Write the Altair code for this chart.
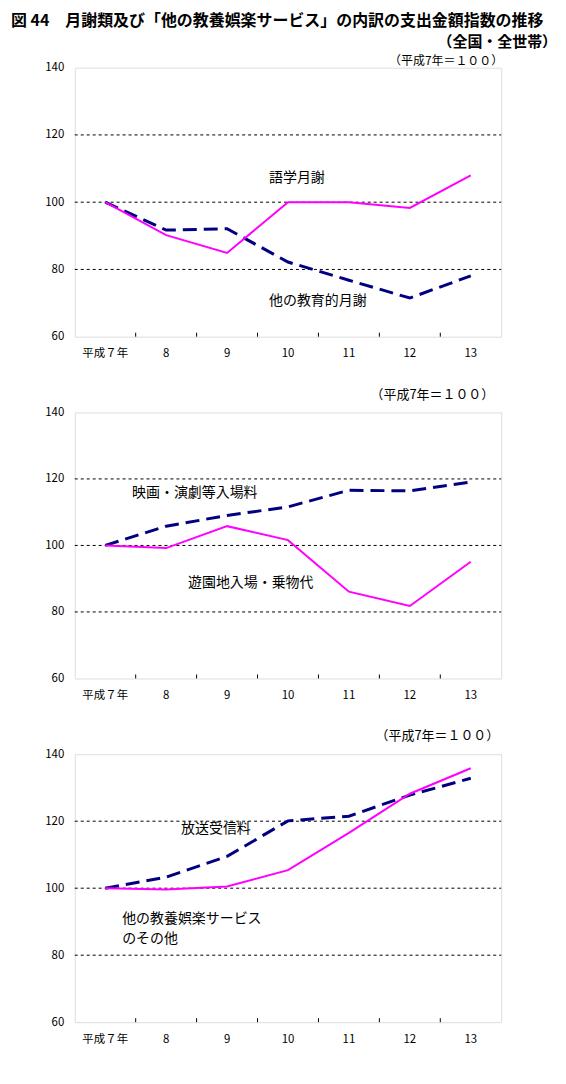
import altair as alt
import pandas as pd

# ---------------- data ----------------
years = ["平成７年", "8", "9", "10", "11", "12", "13"]

p1_dashed_name = "他の教育的月謝"
p1_dashed = [100, 91.7, 92.1, 82.2, 76.8, 71.5, 78.1]
p1_solid_name = "語学月謝"
p1_solid = [100, 90.2, 84.9, 100, 100, 98.3, 108]

p2_dashed_name = "映画・演劇等入場料"
p2_dashed = [100, 105.8, 109, 111.6, 116.6, 116.4, 119.1]
p2_solid_name = "遊園地入場・乗物代"
p2_solid = [100, 99.2, 105.8, 101.6, 86.1, 81.8, 95.1]

p3_dashed_name = "放送受信料"
p3_dashed = [100, 103.3, 109.5, 120.1, 121.5, 127.8, 132.8]
p3_solid_name = "他の教養娯楽サービスのその他"
p3_solid = [100, 99.6, 100.5, 105.4, 116.5, 128.2, 135.8]

y_ticks = [60, 80, 100, 120, 140]
grid_values = [80, 100, 120]

title_line1 = "図 44　月謝類及び「他の教養娯楽サービス」の内訳の支出金額指数の推移"
title_line2 = "（全国・全世帯）"
base_note = "（平成7年＝１００）"

# line labels: (text lines, anchor year index, value, dx)
p1_labels = [(["語学月謝"], 3, 107.2, -19), (["他の教育的月謝"], 3, 70.7, -19)]
p2_labels = [(["映画・演劇等入場料"], 0, 115.8, 27), (["遊園地入場・乗物代"], 1, 88.7, 22)]
p3_labels = [(["放送受信料"], 1, 117.7, 15),
             (["他の教養娯楽サービス", "のその他"], 0, 90.9, 17)]

# ---------------- style ----------------
FONT = "Noto Sans CJK JP"
W = 428
NAVY = "#000080"
MAGENTA = "#FF00FF"

xscale = alt.Scale(domain=years, paddingInner=0, paddingOuter=0)
yscale = alt.Scale(domain=[60, 140], nice=False, zero=False)
xaxis = alt.Axis(title=None, labelAngle=0, ticks=False, tickSize=0, domain=False,
                 grid=False, labelPadding=11, labelFont=FONT, labelFontSize=11.5,
                 labelColor="black")
yaxis = alt.Axis(title=None, values=y_ticks, ticks=False, tickSize=0, domain=False,
                 grid=False, labelPadding=11, labelFont=FONT, labelFontSize=11.5,
                 labelColor="black")


def X(band=None):
    kw = dict(sort=years, scale=xscale, axis=xaxis)
    if band is not None:
        kw["bandPosition"] = band
    return alt.X("year:N", **kw)


def Y():
    return alt.Y("value:Q", scale=yscale, axis=yaxis)


def panel(dashed_name, dashed, solid_name, solid, labels, height, note_x, note_y,
          note_baseline="middle", note_size=13, extra=None):
    df = pd.DataFrame({
        "year": years * 2,
        "value": dashed + solid,
        "series": [dashed_name] * len(years) + [solid_name] * len(years),
    })
    grid = alt.Chart(pd.DataFrame({"value": grid_values})).mark_rule(
        color="black", strokeWidth=1, strokeDash=[3, 3]
    ).encode(y=Y(), x=alt.value(0), x2=alt.value(W))

    ticks = alt.Chart(pd.DataFrame({"year": years[1:]})).mark_rule(
        color="black", strokeWidth=1
    ).encode(x=X(band=0), y=alt.value(height - 4), y2=alt.value(height))

    solid_line = alt.Chart(df).transform_filter(
        alt.datum.series == solid_name
    ).mark_line(color=MAGENTA, strokeWidth=2).encode(x=X(), y=Y())

    dashed_line = alt.Chart(df).transform_filter(
        alt.datum.series == dashed_name
    ).mark_line(color=NAVY, strokeWidth=3, strokeDash=[14, 7]).encode(x=X(), y=Y())

    layers = [grid, ticks, dashed_line, solid_line]

    for lines, yi, val, dx in labels:
        ldf = pd.DataFrame({"year": [years[yi]], "value": [val]})
        txt = lines[0] if len(lines) == 1 else lines
        layers.append(
            alt.Chart(ldf).mark_text(align="left", baseline="middle", dx=dx,
                                     font=FONT, fontSize=14, color="black",
                                     lineHeight=20, text=txt)
            .encode(x=X(), y=Y())
        )

    note = alt.Chart(pd.DataFrame({"t": [base_note]})).mark_text(
        align="right", baseline=note_baseline, font=FONT, fontSize=note_size,
        color="black"
    ).encode(x=alt.value(note_x), y=alt.value(note_y), text="t:N")
    layers.append(note)

    if extra:
        layers.extend(extra)

    return alt.layer(*layers).properties(width=W, height=height)


title1 = alt.Chart(pd.DataFrame({"t": [title_line1]})).mark_text(
    align="left", baseline="top", font=FONT, fontSize=16, fontWeight="bold",
    color="black"
).encode(x=alt.value(-64), y=alt.value(-55), text="t:N")
title2 = alt.Chart(pd.DataFrame({"t": [title_line2]})).mark_text(
    align="right", baseline="top", font=FONT, fontSize=15, fontWeight="bold",
    color="black"
).encode(x=alt.value(484), y=alt.value(-33), text="t:N")

p1 = panel(p1_dashed_name, p1_dashed, p1_solid_name, p1_solid, p1_labels, 270,
           430, -12, note_baseline="top", note_size=12, extra=[title1, title2])
p2 = panel(p2_dashed_name, p2_dashed, p2_solid_name, p2_solid, p2_labels, 267,
           421, -17)
p3 = panel(p3_dashed_name, p3_dashed, p3_solid_name, p3_solid, p3_labels, 269,
           426, -18)

chart = alt.vconcat(p1, p2, p3, spacing=76, bounds="flush").properties(
    padding={"left": 2, "top": 2, "right": 0, "bottom": 4}
).configure_view(stroke="black", strokeWidth=1).configure(background="white")

chart.save("out.html", embed_options={"renderer": "svg", "actions": False})
